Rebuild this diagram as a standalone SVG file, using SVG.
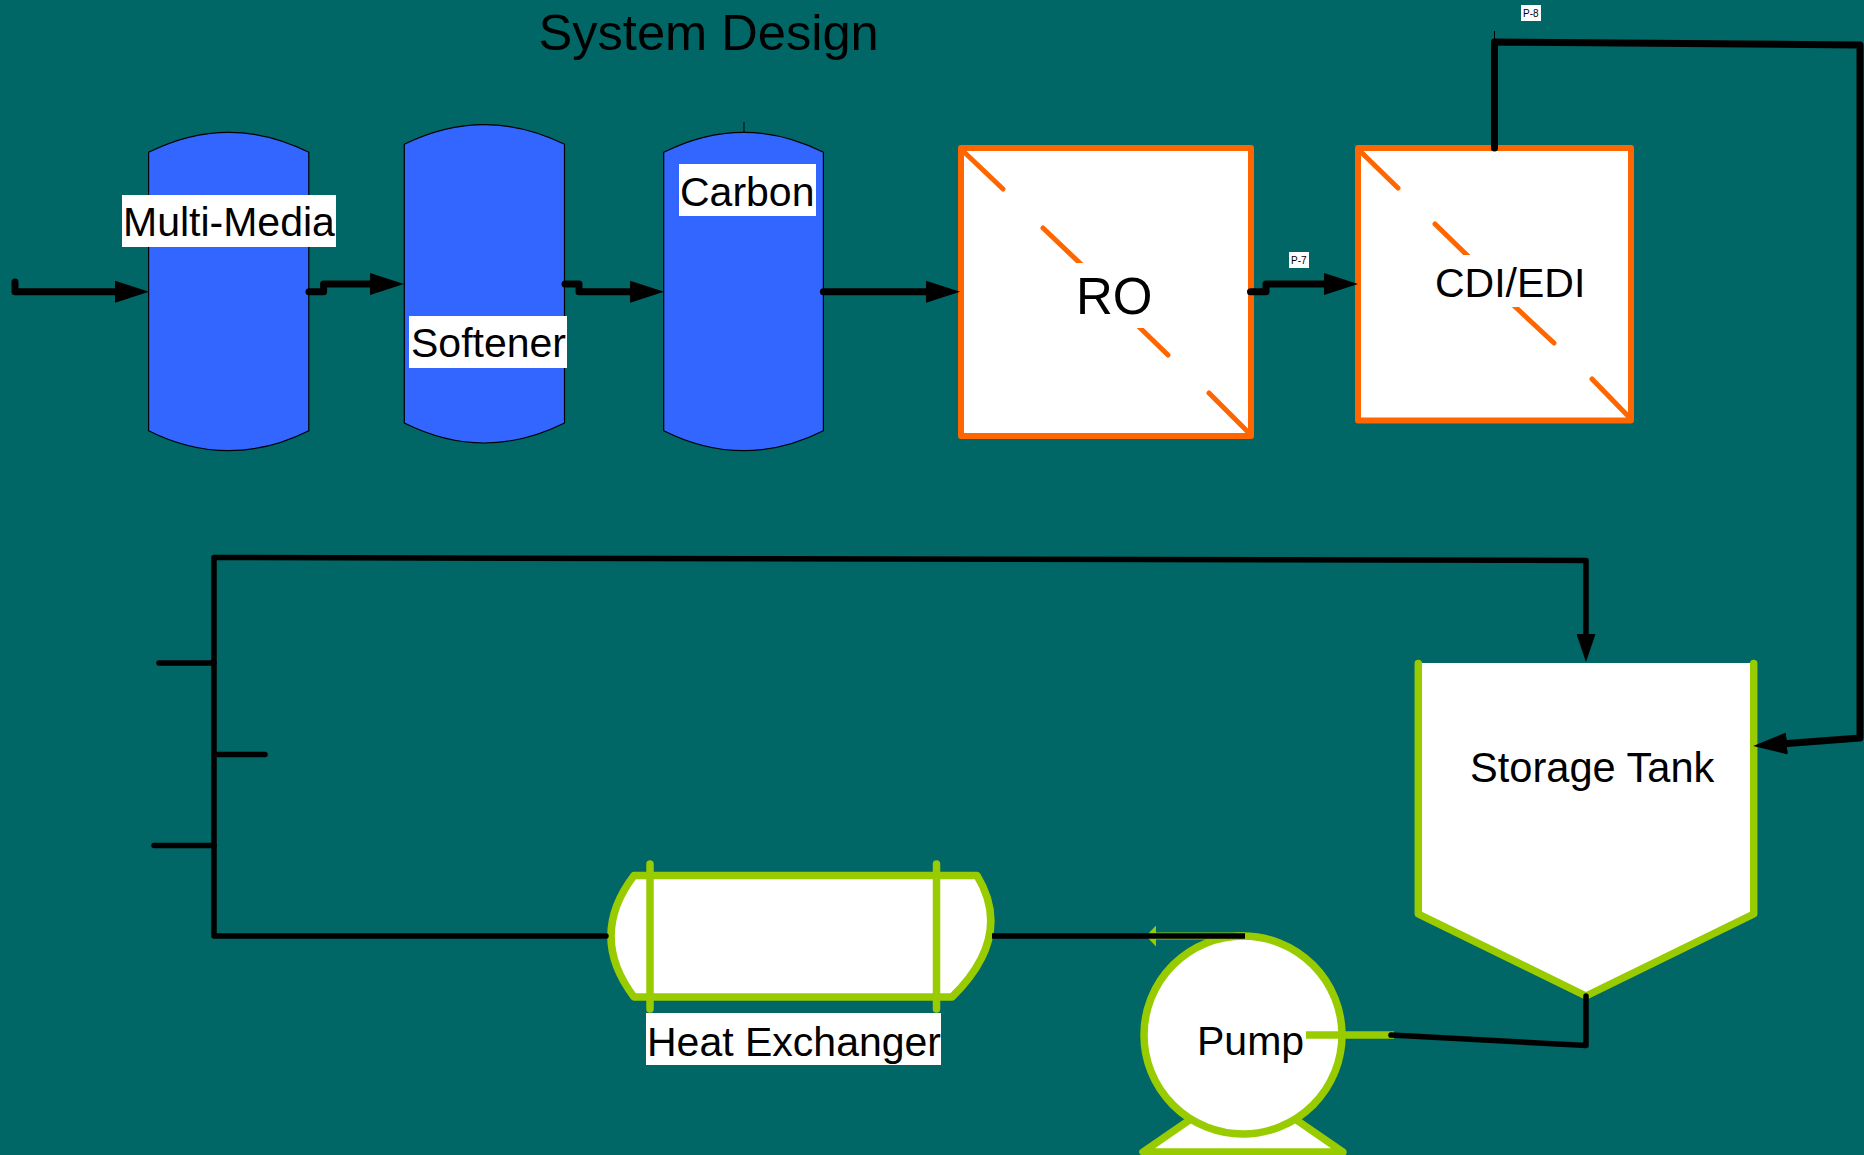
<svg xmlns="http://www.w3.org/2000/svg" width="1864" height="1155" viewBox="0 0 1864 1155">
<defs>
<style>
text{font-family:"Liberation Sans",Arial,sans-serif;fill:#000}
.l{font-size:41px}
.s{font-size:10px}
.v{fill:#3366FF;stroke:#000;stroke-width:1.2}
.o{fill:#fff;stroke:#FF6600;stroke-width:6;stroke-linejoin:round}
.d{fill:none;stroke:#FF6600;stroke-width:5;stroke-linecap:round}
.g{fill:#fff;stroke:#99CC00;stroke-width:7.5;stroke-linecap:round;stroke-linejoin:round}
.p{fill:none;stroke:#000;stroke-width:7;stroke-linecap:round;stroke-linejoin:round}
.q{fill:none;stroke:#000;stroke-width:5.5;stroke-linecap:round;stroke-linejoin:round}
.b{fill:#fff}
</style>
<marker id="a" markerUnits="userSpaceOnUse" markerWidth="34" markerHeight="22" refX="0" refY="11" orient="auto"><path d="M0 0L34 11L0 22z"/></marker>
<marker id="c" markerUnits="userSpaceOnUse" markerWidth="28" markerHeight="19" refX="0" refY="9.5" orient="auto"><path d="M0 0L28 9.5L0 19z"/></marker>
<marker id="e" markerUnits="userSpaceOnUse" markerWidth="10" markerHeight="21" refX="0" refY="10.5" orient="auto"><path d="M0 0L10 10.5L0 21z" fill="#99CC00"/></marker>
</defs>
<rect width="1864" height="1155" fill="#006666"/>
<text id="title" x="538.5" y="49.5" font-size="50.6">System Design</text>
<g id="multi-media">
<path class="v" d="M148.6 152.3Q228.7 112.3 308.8 152.3V430.7Q228.7 470.7 148.6 430.7z"/>
<rect class="b" x="122" y="195" width="214" height="52"/>
<text class="l" x="123" y="236">Multi-Media</text>
</g>
<g id="softener">
<path class="v" d="M404.3 144.3Q484.4 105 564.5 144.3V423Q484.4 463 404.3 423z"/>
<rect class="b" x="409" y="316" width="158" height="52"/>
<text class="l" x="411" y="357">Softener</text>
</g>
<g id="carbon">
<path class="v" d="M663.7 152.3Q743.6 112.3 823.4 152.3V430.7Q743.6 470.7 663.7 430.7z"/>
<path d="M744 122V132" stroke="#000" stroke-width="1"/>
<rect class="b" x="679" y="164" width="137" height="52"/>
<text class="l" x="680" y="206">Carbon</text>
</g>
<g id="ro">
<rect class="o" x="961" y="148" width="290" height="288"/>
<path class="d" d="M963 151L1003 189M1043 228L1085 268M1135 323L1168 355M1209 393L1249 433"/>
<rect class="b" x="1060" y="263" width="100" height="65"/>
<text x="1076" y="314" font-size="51">RO</text>
</g>
<g id="cdi-edi">
<rect class="o" x="1358" y="148" width="273" height="272.5"/>
<path class="d" d="M1361 152L1398 188M1435 224L1472 260M1510 302L1554 343M1592 379L1629 417"/>
<rect class="b" x="1432" y="255" width="152" height="52"/>
<text class="l" x="1435" y="296.5">CDI/EDI</text>
</g>
<g id="storage-tank">
<path d="M1418.3 663H1753.7V914L1586 996L1418.3 914z" fill="#fff"/>
<path class="g" style="fill:none" d="M1418.3 663.5V914L1586 996L1753.7 914V663.5"/>
<text x="1470" y="781.5" font-size="41.6">Storage Tank</text>
</g>
<g id="heat-exchanger">
<path class="g" d="M634 875.5H977Q1014 936 952 997H634Q588 936 634 875.5z"/>
<path class="g" d="M650 864V1009M936.5 864V1009"/>
<rect class="b" x="646" y="1013" width="295" height="52"/>
<text class="l" x="647" y="1055.5">Heat Exchanger</text>
</g>
<g id="pump">
<path class="g" d="M1191 1119L1143 1152H1343L1295 1119z"/>
<circle class="g" cx="1243" cy="1035" r="99"/>
<path class="g" style="stroke-linecap:butt" d="M1306 1035H1394"/>
<text class="l" x="1197" y="1054.5">Pump</text>
</g>
<g id="connectors">
<path d="M1245 936H1156" fill="none" stroke="#99CC00" stroke-width="7" marker-end="url(#e)"/>
<path class="p" d="M15 282V291.7H115" marker-end="url(#a)"/>
<path class="p" d="M309 291.7H323.6V284H370" marker-end="url(#a)"/>
<path class="p" d="M565 284H579V291.7H630" marker-end="url(#a)"/>
<path class="p" d="M823.4 291.7H926" marker-end="url(#a)"/>
<path class="p" d="M1250.5 291.7H1266V284H1324" marker-end="url(#a)"/>
<path class="p" d="M1494.5 148V42L1860 45V738L1787 743.5" marker-end="url(#a)"/>
<path d="M1494.5 31V41" stroke="#000" stroke-width="1"/>
<path class="q" d="M1586 996V1045.5L1391 1035"/>
<path class="q" style="stroke-linecap:butt" d="M1245 936H992"/>
<path class="q" d="M606 936H214V557.5L1586 560.5V634" marker-end="url(#c)"/>
<path class="q" d="M159 663H214M214 754.5H265M154 845.5H214"/>
<rect class="b" x="1289" y="252" width="20" height="16"/>
<text class="s" x="1291" y="263.5">P-7</text>
<rect class="b" x="1521" y="5" width="20" height="16"/>
<text class="s" x="1523" y="16.5">P-8</text>
</g>
</svg>
